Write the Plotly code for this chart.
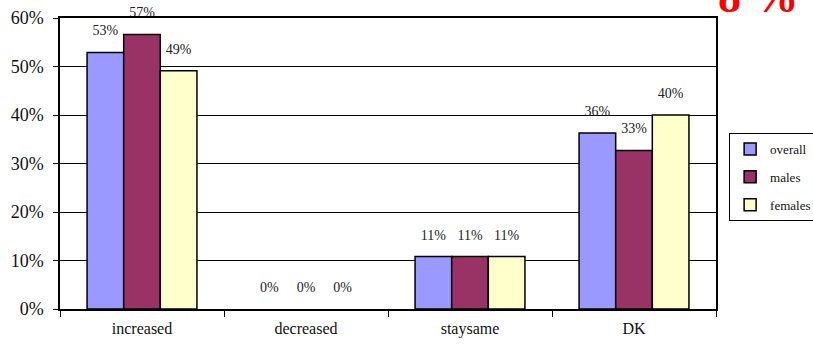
import plotly.graph_objects as go

categories = ["increased", "decreased", "staysame", "DK"]
overall = [52.9, 0, 10.8, 36.3]
males = [56.6, 0, 10.8, 32.7]
females = [49.1, 0, 10.8, 40.0]
y_ticks = [0, 10, 20, 30, 40, 50, 60]

series = [
    ("overall", overall, "#9999FF"),
    ("males", males, "#993366"),
    ("females", females, "#FFFFCC"),
]

serif = "Liberation Serif"

fig = go.Figure()
for name, vals, color in series:
    fig.add_trace(go.Bar(
        name=name,
        x=categories,
        y=vals,
        offsetgroup=name,
        marker=dict(
            color=color,
            # no outline on empty bars so they leave no trace on the axis
            line=dict(color="black", width=[1.5 if v > 0 else 0 for v in vals]),
        ),
        legendgroup=name,
    ))

# value labels, aligned with the grouped bars and lifted above them
for name, vals, color in series:
    fig.add_trace(go.Scatter(
        x=categories,
        y=vals,
        offsetgroup=name,
        mode="markers+text",
        marker=dict(size=20, opacity=0),
        text=[f"{v:.0f}%" for v in vals],
        textposition="top center",
        textfont=dict(family=serif, size=14, color="#222222"),
        cliponaxis=False,
        showlegend=False,
        hoverinfo="skip",
    ))

fig.update_layout(
    width=813, height=344,
    margin=dict(l=60, r=97, t=18, b=35, autoexpand=False),
    paper_bgcolor="white",
    plot_bgcolor="white",
    barmode="group",
    bargap=0.33,
    bargroupgap=0,
    scattermode="group",
    scattergap=0.33,
    font=dict(family=serif, color="#111111"),
    legend=dict(
        x=1.02, y=0.605, xanchor="left", yanchor="top",
        bordercolor="black", borderwidth=1, bgcolor="white",
        font=dict(family=serif, size=13, color="#111111"),
        traceorder="grouped", tracegroupgap=8,
        itemwidth=30,
    ),
    showlegend=True,
)

fig.update_xaxes(
    showline=True, linecolor="black", linewidth=1.5, mirror=True,
    ticks="outside", tickson="boundaries", ticklen=6, tickcolor="black",
    tickfont=dict(family=serif, size=16, color="#111111"),
    ticklabelstandoff=4,
    showgrid=False,
)
fig.update_yaxes(
    range=[0, 60], tickvals=y_ticks, ticktext=[f"{t}%" for t in y_ticks],
    showline=True, linecolor="black", linewidth=1.5, mirror=True,
    ticks="outside", ticklen=5, tickcolor="black",
    tickfont=dict(family=serif, size=18, color="#111111"),
    ticklabelstandoff=6,
    showgrid=True, gridcolor="black", gridwidth=1,
    zeroline=False,
)

fig.add_annotation(
    text="8 %", xref="paper", yref="paper", x=1.0, y=1.0,
    xanchor="left", yanchor="bottom", yshift=-6, showarrow=False,
    font=dict(family=serif, size=46, color="#FF0000", weight="bold"),
)

fig.write_html("out.html")
